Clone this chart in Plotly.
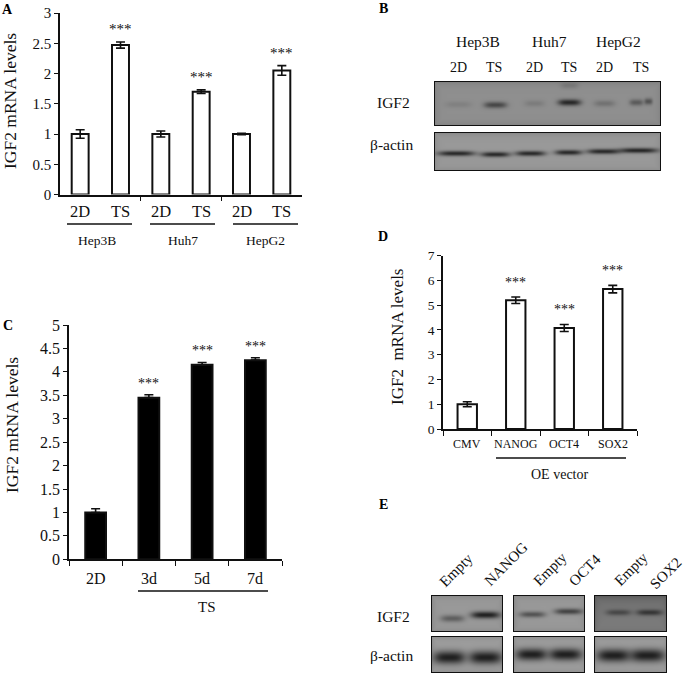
import numpy as np
import plotly.graph_objects as go

W, H = 685, 674
FONT = "Liberation Serif"
INK = "#101010"

# --- bar chart data -------------------------------------------------------
a_labels = ["2D", "TS", "2D", "TS", "2D", "TS"]
a_values = [1.0, 2.47, 1.0, 1.70, 1.0, 2.05]
a_errors = [0.07, 0.05, 0.05, 0.03, 0.01, 0.08]
a_groups = ["Hep3B", "Huh7", "HepG2"]

c_labels = ["2D", "3d", "5d", "7d"]
c_values = [1.0, 3.45, 4.15, 4.25]
c_errors = [0.08, 0.06, 0.05, 0.05]

d_labels = ["CMV", "NANOG", "OCT4", "SOX2"]
d_values = [1.0, 5.2, 4.08, 5.65]
d_errors = [0.10, 0.13, 0.14, 0.15]

# --- western blot band readings (page px: lane centre, band y, strength, width) ---
b_igf2 = [(458, 104, .10, 26), (495, 104.5, .50, 23), (534, 103, .13, 20),
          (569, 102, .72, 23), (569, 85, .14, 18), (604, 103, .20, 21), (636, 102, .36, 14), (648, 101, .42, 8)]
b_actin = [(456, 153, .72, 37), (495, 154, .72, 29), (530, 153, .72, 30),
           (568, 152, .72, 27), (603, 151, .72, 33), (638, 150, .74, 39)]
e_igf2_1 = [(452, 618, .38, 24), (485, 614.5, .78, 29)]
e_igf2_2 = [(532, 614, .45, 26), (568, 611, .55, 28)]
e_igf2_3 = [(618, 612, .40, 25), (649, 612, .55, 26)]
e_actin_1 = [(449, 657, .80, 32), (485, 657, .80, 33)]
e_actin_2 = [(531, 654, .80, 31), (565, 654, .80, 33)]
e_actin_3 = [(613, 655, .80, 33), (647, 655, .80, 35)]

fig = go.Figure()


def px(x):
    return x / W


def py(y):
    return 1 - y / H


annots = []
shapes = []


def text(x, y, s, size, angle=0, bold=False, color=INK, xanchor="center"):
    annots.append(dict(x=px(x), y=py(y), xref="paper", yref="paper", text=f"<b>{s}</b>" if bold else s,
                       showarrow=False, textangle=angle, xanchor=xanchor, yanchor="middle",
                       font=dict(family=FONT, size=size, color=color)))


def rule(x0, x1, y, w=1.6):
    shapes.append(dict(type="line", xref="paper", yref="paper", x0=px(x0), x1=px(x1),
                       y0=py(y), y1=py(y), line=dict(color=INK, width=w)))


def bars(idx, box, labels, values, errors, ymax, dtick, fill, bar_w, xticks, label_y, label_size,
         tick_size, star_size, star_shift, capw, upper_only=False):
    x0, x1, ytop, ybot = box
    name = "" if idx == 1 else str(idx)
    pos = list(range(len(values)))
    fig.add_trace(go.Bar(x=pos, y=values, width=bar_w, xaxis=f"x{name}", yaxis=f"y{name}",
                         marker=dict(color=fill, line=dict(color=INK, width=2)),
                         error_y=dict(type="data", array=errors,
                                      arrayminus=[0] * len(errors) if upper_only else errors,
                                      color=INK, thickness=1.6, width=capw),
                         showlegend=False, hoverinfo="skip"))
    fig.update_layout(**{
        f"xaxis{name}": dict(domain=[px(x0), px(x1)], anchor=f"y{name}", range=[-0.5, len(values) - 0.5],
                             tickmode="array", tickvals=xticks, ticktext=[""] * len(xticks),
                             ticks="outside", ticklen=5, tickwidth=1.4, tickcolor=INK,
                             showline=True, linecolor=INK, linewidth=1.6, showgrid=False, zeroline=False),
        f"yaxis{name}": dict(domain=[py(ybot), py(ytop)], anchor=f"x{name}", range=[0, ymax],
                             tick0=0, dtick=dtick, ticks="outside", ticklen=4, tickwidth=1.4, tickcolor=INK,
                             showline=True, linecolor=INK, linewidth=1.6, showgrid=False, zeroline=False,
                             tickfont=dict(family=FONT, size=tick_size, color=INK)),
    })
    for p, lab in zip(pos, labels):
        annots.append(dict(x=p, xref=f"x{name}", y=py(label_y), yref="paper", text=lab, showarrow=False,
                           yanchor="middle", font=dict(family=FONT, size=label_size, color=INK)))
    for p, v, e in zip(pos, values, errors):
        if v > 1.01:
            annots.append(dict(x=p, xref=f"x{name}", y=v + e, yref=f"y{name}", text="***", showarrow=False,
                               yanchor="middle", yshift=star_shift,
                               font=dict(family=FONT, size=star_size, color=INK)))


bars(1, (60, 302, 13, 194.5), a_labels, a_values, a_errors, 3, 0.5, "white", 0.42, [1.5, 3.5],
     211, 16.5, 15, 15, 13, 4.5)
bars(2, (69, 282, 325, 559.3), c_labels, c_values, c_errors, 5, 0.5, "black", 0.39, [-0.5, 0.5, 1.5, 2.5, 3.5],
     578, 16, 16, 14, 11.5, 4.5, upper_only=True)
bars(3, (443, 637, 255.7, 429), d_labels, d_values, d_errors, 7, 1, "white", 0.40, [-0.5, 0.5, 1.5, 2.5, 3.5],
     444, 12, 13.5, 14, 15, 4.5)

# Y titles
text(10, 101, "IGF2 mRNA levels", 17.5, angle=-90)
text(12, 425, "IGF2 mRNA levels", 17.5, angle=-90)
text(397, 337, "IGF2&nbsp;&nbsp;mRNA levels", 17, angle=-90)

# Panel letters
for lab, x, y in [("A", 8, 10), ("B", 383, 9), ("C", 8, 325), ("D", 383, 236), ("E", 383, 505)]:
    text(x, y, lab, 14, bold=True, color="black")

# Chart A groupings
for (xa, xb), xm, g in zip([(67, 132), (150, 215), (233, 298)], [97, 183, 265], a_groups):
    rule(xa, xb, 224)
    text(xm, 240, g, 13.5)
# Chart C / D groupings
rule(138, 268, 591)
text(207, 607, "TS", 15)
rule(496, 626, 458)
text(559, 474, "OE vector", 14)

# Blot labels (B)
for x, s in zip([478, 549, 618], a_groups):
    text(x, 41, s, 15.5)
for x, s in zip([458, 494, 534, 569, 604, 641], a_labels):
    text(x, 67, s, 14)
text(393, 102, "IGF2", 15.5)
text(392, 145, "β-actin", 15.5)
# Blot labels (E)
text(393, 616, "IGF2", 15.5)
text(392, 655, "β-actin", 15.5)
for x, y, s in [(456, 570, "Empty"), (506, 564, "NANOG"), (550, 569, "Empty"),
                (585, 570, "OCT4"), (631, 569, "Empty"), (666, 573, "SOX2")]:
    text(x, y, s, 15, angle=-45)


def blot(idx, box, bands, bg, sigma, vary=0.0):
    x0, x1, y0, y1 = box
    x0, x1, y0, y1 = x0 + 1, x1 - 1, y0 + 1, y1 - 1  # frame line is drawn outside the domain
    xs = np.arange(x0, x1 + 1, 1.0)
    ys = np.arange(y0, y1 + 1, 1.0)
    X, Y = np.meshgrid(xs, ys)
    edge = np.minimum.reduce([X - x0, x1 - X, Y - y0, y1 - Y])
    Z = bg - 0.05 * np.exp(-edge / 3.0)
    if vary:
        Z = Z - vary * np.exp(-((Y - y0) / (y1 - y0)) * 2)
    keep = np.ones_like(Z)
    for cx, cy, s, w in bands:
        keep *= 1 - s * np.exp(-np.abs((X - cx) / (w / 2)) ** 3.5 - ((Y - cy) / sigma) ** 2)
    Z = Z * keep
    fig.add_trace(go.Heatmap(x=xs, y=ys, z=Z, xaxis=f"x{idx}", yaxis=f"y{idx}", zmin=0, zmax=1,
                             colorscale=[[0, "black"], [1, "white"]], showscale=False, hoverinfo="skip",
                             zsmooth="best"))
    fig.update_layout(**{
        f"xaxis{idx}": dict(domain=[px(x0), px(x1)], anchor=f"y{idx}", range=[x0, x1], visible=True,
                            showticklabels=False, ticks="", showgrid=False, zeroline=False,
                            showline=True, mirror=True, linecolor="#111", linewidth=1.2),
        f"yaxis{idx}": dict(domain=[py(y1), py(y0)], anchor=f"x{idx}", range=[y1, y0], visible=True,
                            showticklabels=False, ticks="", showgrid=False, zeroline=False,
                            showline=True, mirror=True, linecolor="#111", linewidth=1.2),
    })


blot(4, (433.5, 661, 81, 126), b_igf2, 0.56, 3.2)
blot(5, (433.5, 661, 132, 171), b_actin, 0.60, 2.6)
blot(6, (431, 503, 595, 632), e_igf2_1, 0.60, 3.5)
blot(7, (513, 585, 595, 632), e_igf2_2, 0.60, 3.0)
blot(8, (594, 667, 595, 632), e_igf2_3, 0.50, 3.0, vary=0.08)
blot(9, (431, 503, 636, 673), e_actin_1, 0.62, 6.5)
blot(10, (513, 585, 636, 673), e_actin_2, 0.62, 6.0)
blot(11, (594, 667, 636, 673), e_actin_3, 0.62, 6.5)

fig.update_layout(width=W, height=H, margin=dict(l=0, r=0, t=0, b=0, autoexpand=False), autosize=False,
                  paper_bgcolor="white", plot_bgcolor="white", showlegend=False,
                  font=dict(family=FONT, color=INK), annotations=annots, shapes=shapes)

fig.write_html("out.html", config={"displayModeBar": False},
               post_script="document.body.style.margin='0';")
